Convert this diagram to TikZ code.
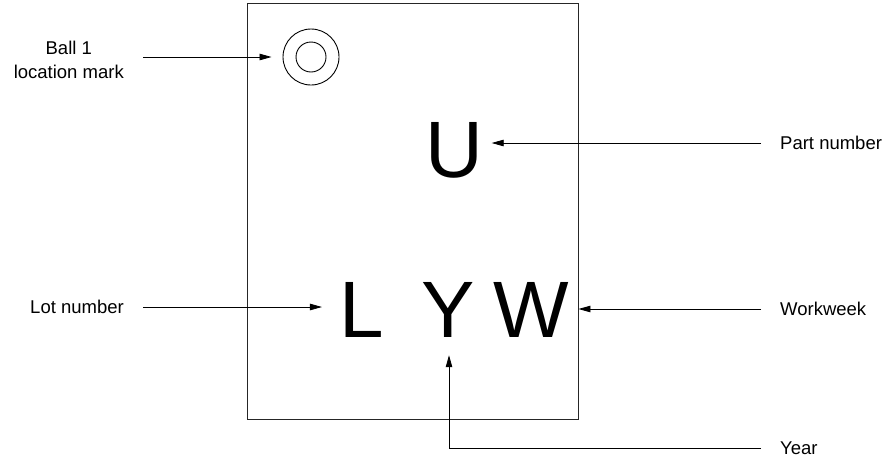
\documentclass[tikz,border=0pt]{standalone}
\usepackage{fontspec}
\setmainfont{Liberation Sans}
\usetikzlibrary{calc,arrows.meta}

\begin{document}
\begin{tikzpicture}[x=1pt, y=-1pt,
		pointer/.style={line width=0.8pt, -{Triangle[length=12pt,width=6.5pt]}},
		callout/.style={font=\fontsize{18.5}{24}\selectfont, inner xsep=19pt, inner ysep=0pt, align=center},
		glyph/.style={font=\fontsize{80}{96}\selectfont, inner sep=0pt, anchor=base}]
			%%%%% START %%%%%
			
			\useasboundingbox (0, 0) rectangle (883, 459);
			
			\draw[line width=0.9pt, color=black!85] (247, 3) rectangle (578, 419);
			
			\node[draw, circle, line width=0.9pt, minimum size=56pt, inner sep=0pt] (ball) at (311, 57) {};
			\draw[line width=0.9pt] (ball.center) circle (15);
			
			\node[glyph] (U) at (454.6, 177) {U};
			\node[glyph] (L) at (361.4, 337) {L};
			\node[glyph] (Y) at (448, 337) {Y};
			\node[glyph] (W) at (531.5, 337) {W};
			
			\node[callout, anchor=east] (balllbl) at (143, 60) {Ball 1\\location mark};
			\node[callout, anchor=east] (lotlbl) at (143, 307) {Lot number};
			\node[callout, anchor=west] (partlbl) at (761, 143) {Part number};
			\node[callout, anchor=west] (weeklbl) at (761, 309) {Workweek};
			\node[callout, anchor=west] (yearlbl) at (761, 448) {Year};
			
			\draw[pointer, shorten >=11pt] (balllbl.east |- ball.west) -- (ball.west);
			\draw[pointer, shorten >=17pt] (lotlbl.east) -- (lotlbl.east -| L.west);
			\draw[pointer, shorten >=8pt] (partlbl.west) -- (partlbl.west -| U.east);
			\draw[pointer, shorten >=9pt] (weeklbl.west) -- (weeklbl.west -| W.east);
			\draw[pointer, shorten >=18pt] (yearlbl.west) -| ($(Y.south)+(1,0)$);
			
			%%%%% END %%%%%
\end{tikzpicture}
\end{document}
